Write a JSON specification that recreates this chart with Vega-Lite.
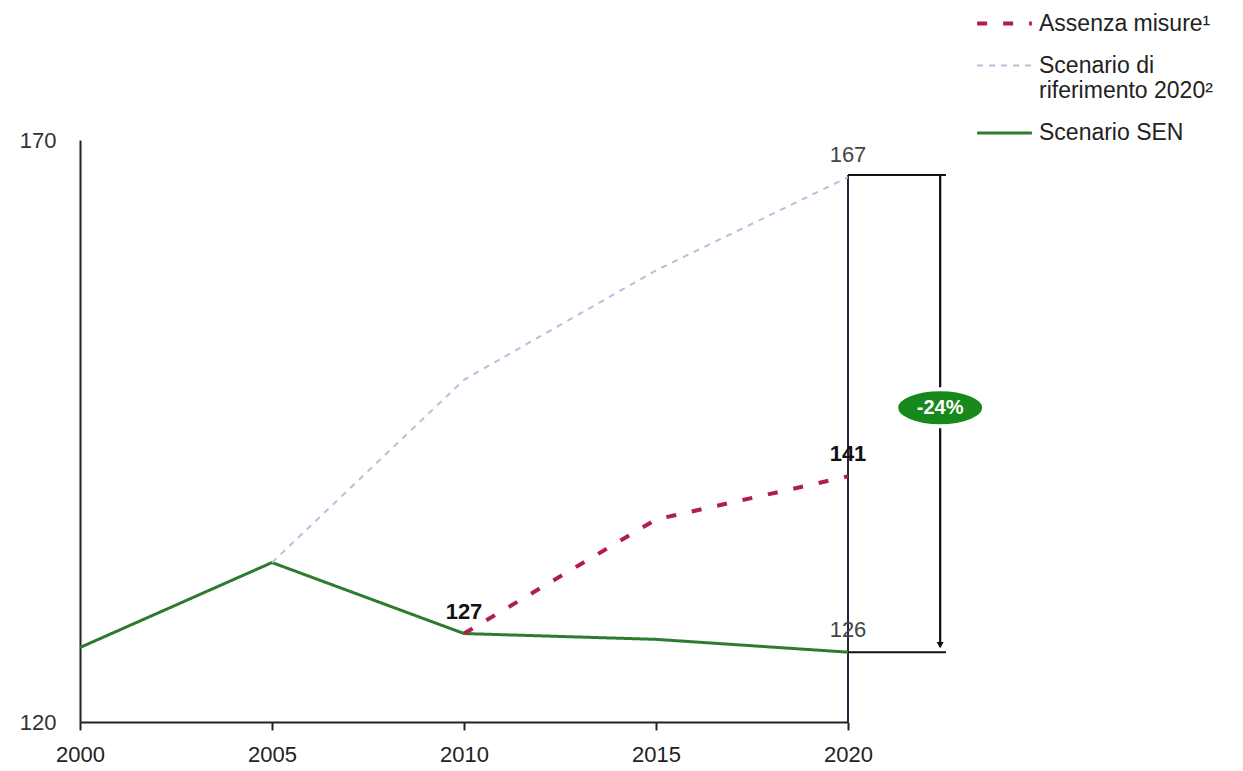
{
  "$schema": "https://vega.github.io/schema/vega-lite/v6.json",
  "width": 768,
  "height": 582,
  "autosize": {"type": "none"},
  "padding": {"left": 80, "top": 140, "right": 395, "bottom": 49},
  "background": "white",
  "config": {"view": {"stroke": null}, "font": "Liberation Sans", "axis": {"grid": false}},
  "datasets": {
    "series": [
      {"year": 2000, "value": 126.4, "series": "Scenario SEN"},
      {"year": 2005, "value": 133.7, "series": "Scenario SEN"},
      {"year": 2010, "value": 127.6, "series": "Scenario SEN"},
      {"year": 2015, "value": 127.1, "series": "Scenario SEN"},
      {"year": 2020, "value": 126.0, "series": "Scenario SEN"},
      {"year": 2005, "value": 133.7, "series": "Scenario di riferimento 2020²"},
      {"year": 2010, "value": 149.4, "series": "Scenario di riferimento 2020²"},
      {"year": 2015, "value": 158.8, "series": "Scenario di riferimento 2020²"},
      {"year": 2020, "value": 166.8, "series": "Scenario di riferimento 2020²"},
      {"year": 2010, "value": 127.6, "series": "Assenza misure¹"},
      {"year": 2015, "value": 137.4, "series": "Assenza misure¹"},
      {"year": 2020, "value": 141.1, "series": "Assenza misure¹"}
    ],
    "labels": [
      {"year": 2010, "value": 127.6, "text": "127", "series": "Assenza misure¹"},
      {"year": 2020, "value": 141.1, "text": "141", "series": "Assenza misure¹"},
      {"year": 2020, "value": 166.8, "text": "167", "series": "Scenario di riferimento 2020²"},
      {"year": 2020, "value": 126.0, "text": "126", "series": "Scenario SEN"}
    ],
    "bracket": [{"value": 167}, {"value": 126}]
  },
  "layer": [
    {
      "data": {"name": "bracket"},
      "mark": {"type": "rule", "color": "#1c2840", "strokeWidth": 2},
      "encoding": {
        "x": {"datum": 2020, "type": "quantitative"},
        "y": {"datum": 120, "type": "quantitative"},
        "y2": {"datum": 167}
      }
    },
    {
      "data": {"name": "bracket"},
      "mark": {"type": "rule", "color": "#111111", "strokeWidth": 2},
      "encoding": {
        "x": {"datum": 2020, "type": "quantitative"},
        "x2": {"datum": 2022.55},
        "y": {"field": "value", "type": "quantitative"}
      }
    },
    {
      "data": {"name": "bracket"},
      "mark": {"type": "rule", "color": "#111111", "strokeWidth": 2},
      "encoding": {
        "x": {"datum": 2022.4, "type": "quantitative"},
        "y": {"datum": 126.5, "type": "quantitative"},
        "y2": {"datum": 167}
      }
    },
    {
      "data": {"name": "series"},
      "mark": {"type": "line"},
      "encoding": {
        "x": {
          "field": "year", "type": "quantitative",
          "scale": {"domain": [2000, 2020], "nice": false, "zero": false},
          "axis": {"values": [2000, 2005, 2010, 2015, 2020], "format": "d", "tickSize": 8, "tickWidth": 2, "tickColor": "#222", "domainColor": "#222", "domainWidth": 2, "labelFontSize": 22, "labelColor": "#222", "labelPadding": 14, "title": null, "labelFlush": false, "labelOverlap": false}
        },
        "y": {
          "field": "value", "type": "quantitative",
          "scale": {"domain": [120, 170], "nice": false, "zero": false},
          "axis": {"values": [120, 170], "ticks": false, "domainColor": "#222", "domainWidth": 2, "labelFontSize": 22, "labelColor": "#333", "labelPadding": 24, "title": null}
        },
        "color": {
          "field": "series", "type": "nominal",
          "scale": {"domain": ["Assenza misure¹", "Scenario di riferimento 2020²", "Scenario SEN"], "range": ["#b01e4a", "#b4c0dc", "#2e7a2e"]},
          "legend": {"orient": "none", "legendX": 895, "legendY": -146, "title": null, "labelFontSize": 23, "labelColor": "#222", "labelFont": "Liberation Sans", "labelLimit": 400, "symbolType": "stroke", "symbolSize": 3000, "rowPadding": 1, "labelOffset": 5, "labelExpr": "datum.label == 'Scenario di riferimento 2020²' ? ['Scenario di', 'riferimento 2020²'] : datum.label"}
        },
        "strokeDash": {
          "field": "series", "type": "nominal",
          "scale": {"domain": ["Assenza misure¹", "Scenario di riferimento 2020²", "Scenario SEN"], "range": [[10, 16], [6, 6], [1, 0]]},
          "legend": {"orient": "none", "legendX": 895, "legendY": -146, "title": null, "labelFontSize": 23, "labelColor": "#222", "labelFont": "Liberation Sans", "labelLimit": 400, "symbolType": "stroke", "symbolSize": 3000, "rowPadding": 1, "labelOffset": 5, "labelExpr": "datum.label == 'Scenario di riferimento 2020²' ? ['Scenario di', 'riferimento 2020²'] : datum.label"}
        },
        "strokeWidth": {
          "field": "series", "type": "nominal",
          "scale": {"type": "ordinal", "domain": ["Assenza misure¹", "Scenario di riferimento 2020²", "Scenario SEN"], "range": [4, 2, 3]},
          "legend": {"orient": "none", "legendX": 895, "legendY": -146, "title": null, "labelFontSize": 23, "labelColor": "#222", "labelFont": "Liberation Sans", "labelLimit": 400, "symbolType": "stroke", "symbolSize": 3000, "rowPadding": 1, "labelOffset": 5, "labelExpr": "datum.label == 'Scenario di riferimento 2020²' ? ['Scenario di', 'riferimento 2020²'] : datum.label"}
        }
      }
    },
    {
      "data": {"name": "labels"},
      "transform": [{"filter": "datum.series == 'Assenza misure¹'"}],
      "mark": {"type": "text", "dy": -22, "fontSize": 22, "fontWeight": "bold", "color": "#111111"},
      "encoding": {
        "x": {"field": "year", "type": "quantitative"},
        "y": {"field": "value", "type": "quantitative"},
        "text": {"field": "text"}
      }
    },
    {
      "data": {"name": "labels"},
      "transform": [{"filter": "datum.series != 'Assenza misure¹'"}],
      "mark": {"type": "text", "dy": -22, "fontSize": 22, "color": "#444444"},
      "encoding": {
        "x": {"field": "year", "type": "quantitative"},
        "y": {"field": "value", "type": "quantitative"},
        "text": {"field": "text"}
      }
    },
    {
      "data": {"values": [{"text": "-24%"}]},
      "mark": {"type": "point", "shape": "M-1,0A1,0.42,0,1,1,1,0A1,0.42,0,1,1,-1,0Z", "size": 7744, "filled": true, "fill": "#17881b", "stroke": "white", "strokeWidth": 4, "opacity": 1},
      "encoding": {
        "x": {"datum": 2022.4, "type": "quantitative"},
        "y": {"datum": 147, "type": "quantitative"}
      }
    },
    {
      "data": {"values": [{"text": "-24%"}]},
      "mark": {"type": "text", "fontSize": 20, "fontWeight": "bold", "color": "white"},
      "encoding": {
        "x": {"datum": 2022.4, "type": "quantitative"},
        "y": {"datum": 147, "type": "quantitative"},
        "text": {"field": "text"}
      }
    },
    {
      "data": {"values": [{"text": "arrow"}]},
      "mark": {"type": "point", "shape": "triangle-down", "size": 50, "filled": true, "color": "#111111", "opacity": 1},
      "encoding": {
        "x": {"datum": 2022.4, "type": "quantitative"},
        "y": {"datum": 126.6, "type": "quantitative"}
      }
    }
  ]
}
